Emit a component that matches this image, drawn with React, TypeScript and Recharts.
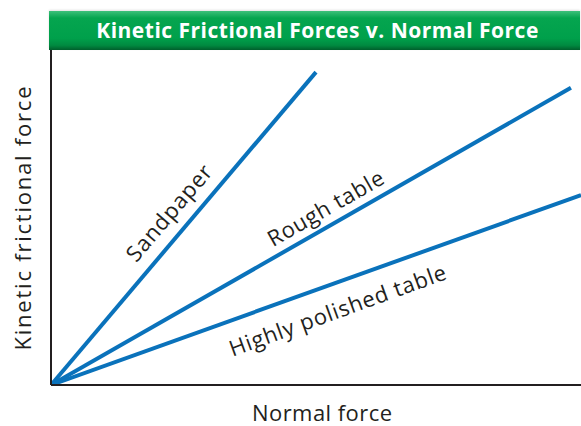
import React from 'react';
import {
  LineChart,
  Line,
  XAxis,
  YAxis,
  ReferenceDot,
} from 'recharts';

// each surface is a straight line from the origin
const surfaces = ['Sandpaper', 'Rough table', 'Highly polished table'];
const normalForceEnd = [50, 98.1, 100];
const frictionEnd = [93.4, 88.7, 56.7];

// where the names sit along the lines (data units), their tilt and run length
const labelAt = [
  { x: 22.1, y: 51.6, tilt: -49.5, len: 119 },
  { x: 51.7, y: 53.1, tilt: -29.7, len: 130 },
  { x: 54.0, y: 22.6, tilt: -19.9, len: 229 },
];

const BLUE = '#0a72bb';
const INK = '#231f20';
const FONT = '"Open Sans", "Noto Sans", sans-serif';

const YTitle = (props: any) => {
  const { viewBox } = props;
  const cx = viewBox.x + 22;
  const cy = viewBox.y + viewBox.height / 2 + 1;
  return (
    <text
      x={cx}
      y={cy}
      transform={`rotate(-90, ${cx}, ${cy})`}
      textAnchor="middle"
      dominantBaseline="central"
      fontSize={22}
      textLength={264}
      lengthAdjust="spacing"
      fill={INK}
      fontFamily={FONT}
    >
      Kinetic frictional force
    </text>
  );
};

const XTitle = (props: any) => {
  const { viewBox } = props;
  return (
    <text
      x={viewBox.x + viewBox.width / 2 + 6}
      y={viewBox.y + 36}
      textAnchor="middle"
      fontSize={22}
      textLength={140}
      lengthAdjust="spacing"
      fill={INK}
      fontFamily={FONT}
    >
      Normal force
    </text>
  );
};

const LineName = ({ viewBox, text, tilt, len }: any) => {
  const cx = viewBox.x + viewBox.width / 2;
  const cy = viewBox.y + viewBox.height / 2;
  return (
    <text
      x={cx}
      y={cy}
      transform={`rotate(${tilt}, ${cx}, ${cy})`}
      textAnchor="middle"
      dominantBaseline="central"
      fontSize={22}
      textLength={len}
      lengthAdjust="spacing"
      fill={INK}
      fontFamily={FONT}
    >
      {text}
    </text>
  );
};

export default function App() {
  return (
    <div style={{ position: 'absolute', left: 0, top: 0, width: 581, height: 426, background: '#fff' }}>
      <div
        style={{
          position: 'absolute',
          left: 49,
          top: 11,
          width: 531,
          height: 39,
          background: 'linear-gradient(to bottom, #3cc07a 0%, #05a54f 18%, #00a04b 70%, #008a40 88%, #005f2c 100%)',
          boxShadow: '0 -1px 2px rgba(0,0,0,0.12)',
          color: '#fff',
          fontFamily: FONT,
          fontWeight: 700,
          fontSize: 21,
          letterSpacing: 0.5,
          lineHeight: '39px',
          textAlign: 'center',
          paddingLeft: 6,
          boxSizing: 'border-box',
          whiteSpace: 'nowrap',
        }}
      >
        Kinetic Frictional Forces v. Normal Force
      </div>
      <LineChart width={581} height={426} margin={{ top: 50, right: 0, bottom: 0, left: 0 }}>
        <XAxis
          type="number"
          dataKey="x"
          domain={[0, 100]}
          allowDataOverflow
          height={41}
          tick={false}
          tickLine={false}
          axisLine={{ stroke: INK, strokeWidth: 2 }}
          label={<XTitle />}
        />
        <YAxis
          type="number"
          dataKey="y"
          domain={[0, 100]}
          allowDataOverflow
          width={51}
          tick={false}
          tickLine={false}
          axisLine={{ stroke: INK, strokeWidth: 2 }}
          label={<YTitle />}
        />
        {surfaces.map((name, i) => (
          <Line
            key={name}
            data={[
              { x: 0, y: 0 },
              { x: normalForceEnd[i], y: frictionEnd[i] },
            ]}
            dataKey="y"
            stroke={BLUE}
            strokeWidth={4}
            dot={false}
            activeDot={false}
            isAnimationActive={false}
          />
        ))}
        {surfaces.map((name, i) => (
          <ReferenceDot
            key={`lbl-${name}`}
            x={labelAt[i].x}
            y={labelAt[i].y}
            r={0}
            fill="none"
            stroke="none"
            label={<LineName text={name} tilt={labelAt[i].tilt} len={labelAt[i].len} />}
          />
        ))}
      </LineChart>
    </div>
  );
}
